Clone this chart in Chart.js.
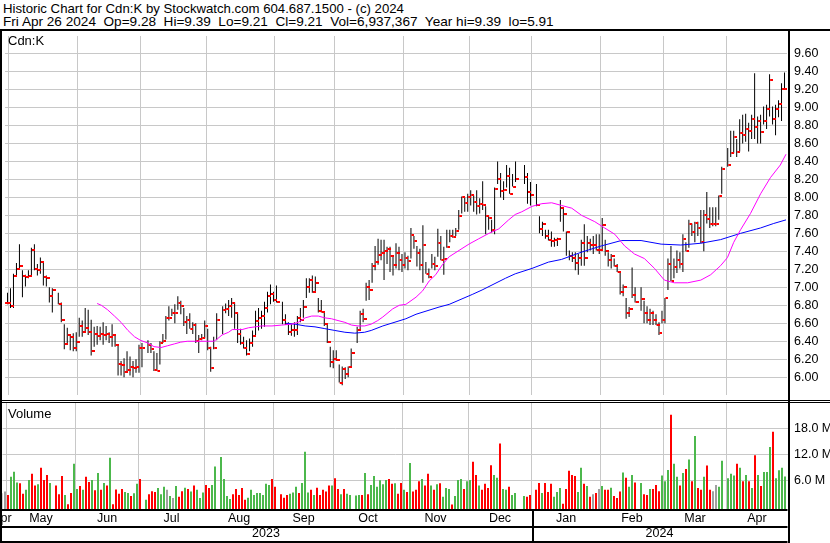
<!DOCTYPE html>
<html>
<head>
<meta charset="utf-8">
<script src="https://cdn.jsdelivr.net/npm/chart.js@4.4.1/dist/chart.umd.min.js"></script>
<style>
  html, body { margin: 0; padding: 0; background: #fff; }
  body { width: 830px; height: 543px; position: relative; overflow: hidden; font-family: "Liberation Sans", Arial, sans-serif; }
  .txt { position: absolute; font-size: 13px; line-height: 13px; color: #000; white-space: pre; }
  .ln { position: absolute; background: #000; }
  canvas { position: absolute; left: 0; }
</style>
</head>
<body>
<div class="txt" style="left:3px; top:2px; font-size:13.2px">Historic Chart for Cdn:K by Stockwatch.com 604.687.1500 - (c) 2024</div>
<div class="txt" style="left:3px; top:15px; font-size:13.6px">Fri Apr 26 2024  Op=9.28  Hi=9.39  Lo=9.21  Cl=9.21  Vol=6,937,367  Year hi=9.39  lo=5.91</div>
<canvas id="graficoPrecio" width="830" height="369" style="top:31px"></canvas>
<canvas id="graficoVolumen" width="830" height="140" style="top:403px"></canvas>
<div class="txt" style="left:8px; top:34px">Cdn:K</div>
<div class="txt" style="left:8px; top:407px">Volume</div>
<div class="ln" style="left:0; top:29px; width:830px; height:2px"></div>
<div class="ln" style="left:0; top:400px; width:830px; height:1px"></div>
<div class="ln" style="left:0; top:402px; width:830px; height:1px"></div>
<div class="ln" style="left:0; top:29px; width:2px; height:514px"></div>
<div class="ln" style="left:788px; top:29px; width:2px; height:514px"></div>

<script>
// one slot per weekday, Apr 27 2023 .. Apr 26 2024; null = market holiday
const maximos = [
  6.92, 6.94, 6.99, 7.15, 7.27, 7.48, 7.19, 7.14, 7.19, 7.44, 7.48, 7.26, 7.33, 7.28, 7.13, 7.00, 6.99, null,
  6.94, 6.83, 6.59, 6.55, 6.48, 6.49, 6.50, 6.66, 6.63, 6.77, 6.75, 6.64, 6.56, 6.57, 6.56, 6.61, 6.57, 6.50, 6.59, 6.47, 6.35, 6.18, 6.21, 6.29, 6.23, 6.18, 6.20, 6.36, 6.38, null,
  6.41, 6.38, 6.29, 6.27, 6.40, 6.48, 6.68, 6.79, 6.76, 6.81, 6.90, 6.85, 6.77, 6.68, 6.71, 6.61, 6.60, 6.47, 6.48, 6.63, 6.54, 6.34, 6.45, 6.71, null,
  6.79, 6.82, 6.86, 6.88, 6.83, 6.72, 6.54, 6.45, 6.41, 6.43, 6.52, 6.74, 6.77, 6.74, 6.84, 6.95, 7.03, 6.95, 7.02, null,
  6.84, 6.70, 6.61, 6.59, 6.61, 6.68, 6.77, 6.86, 7.10, 7.10, 7.13, 7.12, 6.88, 6.86, 6.72, 6.59, 6.34, 6.30, 6.30, 6.14, 6.12, 6.11, 6.12, 6.32, null,
  6.56, 6.74, 6.76, 7.05, 7.08, 7.27, 7.46, 7.54, 7.53, 7.53, 7.45, 7.45, 7.34, 7.49, 7.45, 7.37, 7.39, 7.35, 7.66, 7.57, 7.46, 7.43, 7.69, 7.28, 7.21, 7.37, 7.34,
  7.65, 7.57, 7.45, 7.64, 7.64, 7.64, 7.66, 7.86, 8.01, 8.00, 8.04, 8.08, 8.02, 8.08, 7.99, 8.18, 7.90, 7.79, 7.75, 8.11, 8.40, 8.27, 8.18, 8.36, 8.33, 8.26, 8.40, null, null,
  8.36, 8.27, 8.17, null,
  8.15, 7.79, 7.73, 7.64, 7.64, 7.62, 7.55, 7.55, 7.97, 7.88, 7.62, 7.41, 7.39, 7.39, 7.37, 7.53, 7.70, 7.57, 7.54, 7.57, 7.59, 7.59, 7.77, 7.53, 7.39, 7.37, 7.32, 7.26, 7.17, 7.03, 6.88, 6.78, 7.22, 7.00, null,
  7.00, 6.85, 6.79, 6.76, 6.74, 6.70, 6.61, 6.74, 6.88, 7.32, 7.46, 7.32, 7.41, 7.39, 7.59, 7.50, 7.75, 7.71, 7.73, 7.73, 7.86, 7.86, 8.06, 7.89, 7.89, 7.89, 8.02, 8.34, null,
  8.55, 8.74, 8.74, 8.65, 8.87, 8.92, 8.93, 8.83, 8.92, 9.38, 8.90, 8.92, 9.01, 9.03, 9.37, 9.01, 9.03, 9.08, 9.27, 9.39
];
const minimos = [
  6.80, 6.81, 6.77, 6.77, 7.13, 7.20, 6.89, 7.01, 7.10, 7.13, 7.19, 7.13, 7.15, 7.02, 7.01, 6.83, 6.72, null,
  6.81, 6.61, 6.31, 6.38, 6.30, 6.29, 6.29, 6.45, 6.45, 6.50, 6.47, 6.24, 6.34, 6.36, 6.41, 6.36, 6.41, 6.38, 6.34, 6.34, 6.02, 6.02, 6.00, 6.05, 6.02, 6.00, 6.05, 6.05, 6.11, null,
  6.27, 6.27, 6.07, 6.07, 6.14, 6.38, 6.42, 6.63, 6.68, 6.60, 6.75, 6.70, 6.57, 6.48, 6.54, 6.48, 6.38, 6.27, 6.41, 6.43, 6.30, 6.06, 6.31, 6.41, null,
  6.48, 6.71, 6.68, 6.66, 6.54, 6.38, 6.36, 6.32, 6.24, 6.29, 6.34, 6.47, 6.52, 6.54, 6.56, 6.72, 6.81, 6.84, 6.83, null,
  6.59, 6.58, 6.47, 6.46, 6.45, 6.47, 6.61, 6.66, 6.88, 6.94, 6.94, 6.95, 6.72, 6.72, 6.57, 6.38, 6.11, 6.10, 6.18, 5.94, 5.91, 5.98, 6.00, 6.12, null,
  6.38, 6.52, 6.61, 6.85, 6.86, 7.05, 7.19, 7.25, 7.30, 7.08, 7.26, 7.17, 7.13, 7.21, 7.19, 7.17, 7.21, 7.19, 7.32, 7.43, 7.23, 7.19, 7.05, 7.15, 7.10, 7.21, 7.19,
  7.34, 7.30, 7.14, 7.44, 7.50, 7.55, 7.57, 7.64, 7.82, 7.84, 7.84, 7.91, 7.84, 7.81, 7.82, 7.86, 7.59, 7.64, 7.61, 7.59, 8.15, 8.00, 7.97, 8.11, 8.04, 8.12, 8.17, null, null,
  8.15, 7.93, 7.91, null,
  7.90, 7.60, 7.57, 7.54, 7.52, 7.45, 7.45, 7.46, 7.73, 7.62, 7.35, 7.30, 7.28, 7.19, 7.14, 7.24, 7.24, 7.39, 7.41, 7.37, 7.41, 7.37, 7.41, 7.35, 7.23, 7.21, 7.23, 7.17, 6.92, 6.90, 6.65, 6.67, 6.88, 6.83, null,
  6.74, 6.60, 6.60, 6.58, 6.58, 6.58, 6.47, 6.60, 6.60, 6.97, 7.07, 7.10, 7.16, 7.21, 7.17, 7.40, 7.44, 7.57, 7.50, 7.57, 7.49, 7.40, 7.71, 7.66, 7.68, 7.68, 7.75, 8.04, null,
  8.34, 8.45, 8.49, 8.45, 8.51, 8.60, 8.62, 8.51, 8.65, 8.65, 8.60, 8.60, 8.81, 8.76, 8.90, 8.81, 8.69, 8.89, 8.85, 9.21
];
const cierres = [
  6.83, 6.83, 6.79, 7.13, 7.20, 7.24, 7.13, 7.12, 7.13, 7.41, 7.20, 7.19, 7.28, 7.12, 7.10, 6.90, 6.97, null,
  6.81, 6.64, 6.37, 6.47, 6.45, 6.33, 6.39, 6.57, 6.50, 6.55, 6.50, 6.29, 6.48, 6.46, 6.48, 6.47, 6.48, 6.45, 6.47, 6.36, 6.15, 6.14, 6.06, 6.08, 6.11, 6.10, 6.11, 6.33, 6.32, null,
  6.36, 6.31, 6.08, 6.07, 6.38, 6.40, 6.66, 6.66, 6.71, 6.71, 6.83, 6.79, 6.61, 6.64, 6.54, 6.58, 6.40, 6.42, 6.44, 6.57, 6.33, 6.10, 6.32, 6.64, null,
  6.75, 6.76, 6.79, 6.83, 6.71, 6.48, 6.38, 6.33, 6.26, 6.38, 6.46, 6.62, 6.66, 6.68, 6.77, 6.90, 6.92, 6.86, 6.84, null,
  6.64, 6.59, 6.50, 6.52, 6.53, 6.66, 6.64, 6.78, 7.00, 7.08, 6.95, 7.05, 6.74, 6.72, 6.59, 6.39, 6.17, 6.20, 6.19, 5.94, 6.09, 6.04, 6.11, 6.27, null,
  6.53, 6.70, 6.65, 7.00, 6.97, 7.24, 7.28, 7.36, 7.38, 7.40, 7.43, 7.35, 7.25, 7.38, 7.30, 7.25, 7.33, 7.29, 7.58, 7.51, 7.38, 7.25, 7.47, 7.15, 7.12, 7.26, 7.24,
  7.49, 7.30, 7.31, 7.45, 7.57, 7.56, 7.63, 7.79, 8.00, 7.94, 8.00, 8.03, 7.95, 7.90, 7.93, 7.92, 7.79, 7.77, 7.64, 8.09, 8.21, 8.07, 8.08, 8.24, 8.04, 8.12, 8.20, null, null,
  8.23, 8.06, 8.03, null,
  7.91, 7.65, 7.70, 7.57, 7.53, 7.52, 7.53, 7.54, 7.88, 7.81, 7.62, 7.35, 7.33, 7.27, 7.33, 7.49, 7.33, 7.49, 7.47, 7.47, 7.41, 7.41, 7.69, 7.40, 7.30, 7.35, 7.24, 7.17, 6.95, 7.00, 6.71, 6.76, 6.91, 6.84, null,
  6.87, 6.71, 6.64, 6.71, 6.64, 6.58, 6.49, 6.64, 6.88, 7.26, 7.07, 7.23, 7.30, 7.26, 7.54, 7.40, 7.70, 7.62, 7.71, 7.66, 7.50, 7.80, 7.76, 7.70, 7.70, 7.70, 8.01, 8.32, null,
  8.36, 8.49, 8.67, 8.51, 8.72, 8.69, 8.76, 8.74, 8.87, 8.78, 8.85, 8.73, 8.85, 8.98, 9.31, 8.87, 8.98, 9.04, 9.20, 9.21
];
// millions of shares
const volumenes = [
  3.0, 3.4, 2.6, 6.8, 8.0, 5.5, 5.3, 2.9, 3.8, 6.1, 7.5, 4.8, 5.1, 8.9, 6.1, 7.2, 5.4, null,
  4.8, 2.8, 7.0, 2.6, 0.5, 3.1, 9.8, 4.0, 4.7, 3.8, 6.8, 5.6, 6.1, 3.7, 7.7, 3.8, 5.4, 4.8, 11.2, 0.5, 3.9, 2.9, 4.0, 3.3, 3.1, 2.4, 3.0, 5.2, 6.3, null,
  1.5, 2.8, 3.5, 3.3, 4.2, 2.8, 4.5, 3.8, 2.4, 1.9, 4.7, 2.2, 3.5, 4.3, 4.0, 3.4, 4.8, 3.8, 1.9, 3.2, 4.9, 4.2, 4.9, 9.2, null,
  11.4, 6.3, 2.4, 1.7, 2.8, 4.0, 2.6, 4.2, 1.5, 2.0, 3.8, 2.6, 3.1, 3.1, 2.6, 5.2, 4.9, 6.3, 4.5, null,
  2.8, 2.0, 2.6, 2.9, 3.2, 4.5, 3.1, 5.4, 12.6, 3.2, 3.8, 2.6, 4.3, 2.6, 3.8, 3.4, 4.8, 4.8, 6.5, 4.0, 2.8, 4.0, 2.9, 2.6, null,
  2.5, 2.6, 2.6, 7.7, 2.8, 4.9, 7.0, 4.5, 6.0, 5.1, 6.1, 6.3, 5.2, 5.3, 2.9, 5.4, 3.8, 3.3, 10.0, 3.4, 3.8,
  5.8, 6.3, 4.8, 7.5, 4.8, 3.8, 5.1, 5.3, 2.2, 4.2, 4.0, 0.4, 2.4, 6.1, 6.3, 4.0, 5.8, 6.1, 10.3, 7.2, 4.8, 3.8, 5.2, 4.2, 9.5, 7.2, 6.6, 14.5, 4.0, 3.8, 4.5, 2.6, 3.1, null, null,
  2.4, 2.2, 2.6, null,
  3.8, 5.4, 3.1, 5.4, 3.3, 5.2, 2.2, 3.3, 4.2, 0.6, 4.0, 8.2, 7.2, 7.0, 3.3, 8.9, 5.2, 4.7, 2.2, 2.8, 3.1, 4.0, 4.7, 3.8, 3.8, 4.3, 2.4, 1.9, 3.4, 7.8, 6.6, 4.5, 7.2, 5.5, null,
  5.4, 2.8, 2.6, 4.0, 4.0, 4.9, 3.5, 7.1, 5.8, 8.4, 21.1, 9.8, 6.8, 4.8, 7.7, 8.6, 10.8, 5.8, 16.2, 4.2, 3.8, 6.8, 9.4, 3.8, 3.5, 4.9, 4.5, 10.5, null,
  6.5, 7.5, 7.1, 9.8, 8.9, 5.8, 7.2, 5.8, 4.2, 11.8, 7.2, 4.7, 7.9, 7.9, 13.7, 17.2, 6.5, 8.3, 8.9, 6.9
];

// moving averages (slot, price)
const mediaCortaX = [31, 32.4, 34.5, 36.8, 39, 41.3, 43.5, 45.5, 48, 50, 52.4, 54.6, 56.8, 59, 61.2, 64, 70, 71, 72.8, 75, 76.2, 79.5, 81.7, 83.9, 86.1, 89.5, 92.8, 96.1, 98.3, 100.6, 102.8, 105, 107.2, 109.4, 111.6, 113.9, 116.1, 118.3, 120.5, 122.7, 124.9, 126.6, 129.9, 132.1, 134.3, 137.7, 139.9, 142.1, 144.3, 146.5, 148.8, 152.1, 155.4, 158.7, 162.1, 165.4, 168.7, 170.9, 173.1, 176.5, 179.8, 183.1, 186.4, 189.8, 193.1, 197.5, 200.8, 204.2, 207.5, 210.8, 214.1, 217.5, 220.8, 224.1, 228.6, 233, 236.3, 239.6, 241.9, 244, 246.3, 249.6, 253, 256.3, 259.6, 261.5];
const mediaCortaY = [6.82, 6.80, 6.75, 6.68, 6.61, 6.52, 6.45, 6.41, 6.38, 6.34, 6.33, 6.35, 6.37, 6.39, 6.40, 6.40, 6.40, 6.42, 6.47, 6.50, 6.53, 6.53, 6.55, 6.56, 6.57, 6.57, 6.58, 6.59, 6.61, 6.66, 6.68, 6.68, 6.66, 6.65, 6.63, 6.61, 6.58, 6.57, 6.57, 6.59, 6.63, 6.67, 6.76, 6.80, 6.81, 6.89, 6.96, 7.07, 7.14, 7.25, 7.34, 7.41, 7.48, 7.54, 7.60, 7.65, 7.75, 7.81, 7.84, 7.90, 7.93, 7.94, 7.91, 7.88, 7.80, 7.73, 7.66, 7.59, 7.46, 7.37, 7.32, 7.21, 7.08, 7.05, 7.05, 7.08, 7.14, 7.24, 7.33, 7.50, 7.64, 7.82, 8.04, 8.22, 8.36, 8.48];
const mediaLargaX = [94.2, 97.2, 100.6, 103.9, 107.2, 110.5, 113.9, 117.2, 120.5, 122.7, 126.6, 134.3, 137.7, 145.4, 148.8, 156.5, 159.8, 167.6, 170.9, 176.5, 182, 186.4, 193, 199.7, 206.4, 213, 219.7, 226.3, 233, 239.6, 246.3, 253, 257.4, 261.5];
const mediaLargaY = [6.60, 6.59, 6.57, 6.56, 6.54, 6.52, 6.50, 6.49, 6.50, 6.52, 6.57, 6.65, 6.70, 6.78, 6.81, 6.92, 6.97, 7.10, 7.15, 7.21, 7.28, 7.31, 7.39, 7.46, 7.52, 7.52, 7.48, 7.47, 7.49, 7.53, 7.60, 7.66, 7.71, 7.75];

const lineasMeses = [1.5, 24.5, 45.5, 67.5, 90.5, 110.5, 133.5, 155.5, 176.5, 199.5, 220.5, 241.5];
const nombresMeses = ['Apr', 'May', 'Jun', 'Jul', 'Aug', 'Sep', 'Oct', 'Nov', 'Dec', 'Jan', 'Feb', 'Mar', 'Apr'];
const anios = ['2023', '2024'];
const ticksPrecio = [6.0, 6.2, 6.4, 6.6, 6.8, 7.0, 7.2, 7.4, 7.6, 7.8, 8.0, 8.2, 8.4, 8.6, 8.8, 9.0, 9.2, 9.4, 9.6];
const ticksVolumen = [6, 12, 18];

const COLORES = {
  barra: '#000000',
  cierre: '#ff0000',
  corta: '#ff00ff',
  larga: '#0000ff',
  sube: '#4cb84c',
  baja: '#ff0000',
  igual: '#a0a0a0',
  rejilla: '#c8c8c8'
};

const EJE_MIN = 1 / 6;
const EJE_MAX = EJE_MIN + 785 / 3;
const PRECIO_MIN = 5.802;
const PRECIO_MAX = 9.795;
const VOL_MIN = -0.62;
const VOL_MAX = 23.84;
const ENERO = lineasMeses[8];

Chart.defaults.font.family = '"Liberation Sans", Arial, sans-serif';
Chart.defaults.font.size = 12.5;
Chart.defaults.color = '#000';

const dias = cierres.map((c, i) => i).filter((i) => cierres[i] !== null);

function puntos(xs, ys) {
  return xs.map((x, k) => ({ x: x, y: ys[k] }));
}

function crearMarcaCierre() {
  const lienzo = document.createElement('canvas');
  lienzo.width = 7;
  lienzo.height = 2;
  const c = lienzo.getContext('2d');
  c.fillStyle = COLORES.cierre;
  c.fillRect(4, 0, 3, 2);
  return lienzo;
}

function ejeRejilla() {
  return {
    type: 'linear', axis: 'x', position: 'bottom', weight: 0,
    min: EJE_MIN, max: EJE_MAX, offset: false,
    afterBuildTicks: (e) => { e.ticks = lineasMeses.map((v) => ({ value: v })); },
    afterFit: (e) => { e.height = 0; e.paddingLeft = 0; e.paddingRight = 0; },
    ticks: { display: false, autoSkip: false },
    grid: { color: COLORES.rejilla, drawTicks: false, offset: false },
    border: { display: false }
  };
}

function ejeEtiquetas(valores, textos, peso, relleno) {
  return {
    type: 'linear', axis: 'x', position: 'bottom', weight: peso,
    min: EJE_MIN, max: EJE_MAX, offset: false,
    afterBuildTicks: (e) => { e.ticks = valores.map((v) => ({ value: v })); },
    afterFit: (e) => { e.height = 17; e.paddingLeft = 0; e.paddingRight = 0; },
    ticks: { autoSkip: false, maxRotation: 0, minRotation: 0, padding: relleno, callback: (v, i) => textos[i] },
    grid: { display: false, drawTicks: false, offset: false },
    border: { display: false }
  };
}

function crearPrecio() {
  new Chart(document.getElementById('graficoPrecio'), {
    type: 'bar',
    data: {
      datasets: [
        { type: 'line', data: puntos(mediaCortaX, mediaCortaY), borderColor: COLORES.corta, borderWidth: 1, pointRadius: 0, tension: 0, order: 1 },
        { type: 'line', data: puntos(mediaLargaX, mediaLargaY), borderColor: COLORES.larga, borderWidth: 1, pointRadius: 0, tension: 0, order: 1 },
        {
          type: 'line',
          data: dias.map((i) => ({ x: i, y: cierres[i] })),
          showLine: false,
          pointStyle: crearMarcaCierre(),
          pointRadius: 2,
          order: 2
        },
        {
          type: 'bar',
          data: dias.map((i) => ({ x: i, y: [minimos[i], maximos[i]] })),
          backgroundColor: COLORES.barra,
          borderWidth: 0,
          barThickness: 1,
          inflateAmount: 0,
          grouped: false,
          order: 3
        }
      ]
    },
    options: {
      responsive: false,
      animation: false,
      devicePixelRatio: 1,
      events: [],
      layout: { padding: { left: 2, right: 0, top: 0, bottom: 0 } },
      plugins: { legend: { display: false }, tooltip: { enabled: false } },
      scales: {
        x: ejeRejilla(),
        y: {
          type: 'linear', position: 'right', min: PRECIO_MIN, max: PRECIO_MAX,
          afterBuildTicks: (e) => { e.ticks = ticksPrecio.map((v) => ({ value: v })); },
          afterFit: (e) => { e.width = 43; e.paddingTop = 0; e.paddingBottom = 0; },
          ticks: { autoSkip: false, padding: 7, callback: (v) => v.toFixed(2) },
          grid: { color: COLORES.rejilla, drawTicks: false },
          border: { display: false }
        }
      }
    }
  });
}

const marcoInferior = {
  id: 'marcoInferior',
  afterDraw(chart) {
    const { ctx, chartArea } = chart;
    const xEnero = Math.round(chart.scales.x.getPixelForValue(ENERO));
    ctx.save();
    ctx.fillStyle = '#000';
    ctx.fillRect(0, chartArea.bottom, chartArea.right, 2);
    ctx.fillRect(0, chartArea.bottom + 17, chartArea.right, 2);
    ctx.fillRect(0, chart.height - 2, chartArea.right, 2);
    ctx.fillRect(xEnero, chartArea.bottom, 2, chart.height - chartArea.bottom);
    ctx.restore();
  }
};

function crearVolumen() {
  const colores = dias.map((i, k) => {
    if (k === 0) return COLORES.igual;
    const previo = cierres[dias[k - 1]];
    if (cierres[i] > previo) return COLORES.sube;
    if (cierres[i] < previo) return COLORES.baja;
    return COLORES.igual;
  });

  const centrosMeses = nombresMeses.map((m, k) => {
    if (k === 0) return lineasMeses[0] - 1.5;
    const fin = k < lineasMeses.length ? lineasMeses[k] : EJE_MAX;
    return (lineasMeses[k - 1] + fin) / 2;
  });
  const centrosAnios = [(EJE_MIN - 0.67 + ENERO) / 2, (ENERO + EJE_MAX) / 2];

  new Chart(document.getElementById('graficoVolumen'), {
    type: 'bar',
    data: {
      datasets: [{
        data: dias.map((i) => ({ x: i, y: volumenes[i] })),
        backgroundColor: colores,
        borderWidth: 0,
        barThickness: 2,
        inflateAmount: 0,
        base: VOL_MIN,
        grouped: false
      }]
    },
    options: {
      responsive: false,
      animation: false,
      devicePixelRatio: 1,
      events: [],
      layout: { padding: { left: 2.5, right: 0, top: 0, bottom: 0 } },
      plugins: { legend: { display: false }, tooltip: { enabled: false } },
      scales: {
        x: ejeRejilla(),
        xMes: ejeEtiquetas(centrosMeses, nombresMeses, 1, 2),
        xAnio: ejeEtiquetas(centrosAnios, anios, 2, 0.5),
        y: {
          type: 'linear', position: 'right', min: VOL_MIN, max: VOL_MAX,
          afterBuildTicks: (e) => { e.ticks = ticksVolumen.map((v) => ({ value: v })); },
          afterFit: (e) => { e.width = 42.5; e.paddingTop = 0; e.paddingBottom = 0; },
          ticks: { autoSkip: false, padding: 6.5, callback: (v) => v.toFixed(1) + ' M' },
          grid: { color: COLORES.rejilla, drawTicks: false },
          border: { display: false }
        }
      }
    },
    plugins: [marcoInferior]
  });
}

crearPrecio();
crearVolumen();
</script>
</body>
</html>
